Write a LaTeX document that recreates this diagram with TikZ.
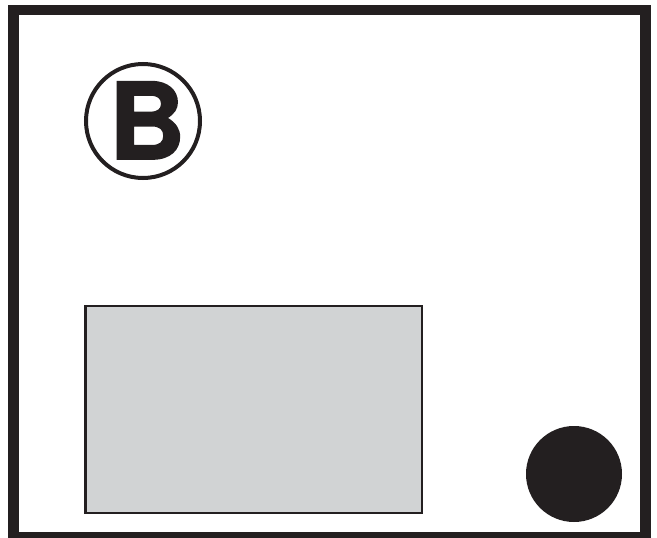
\documentclass[tikz,border=0pt]{standalone}
\usepackage{fontspec}
\setmainfont{TeX Gyre Heros}
\newfontfamily\heavyfont[FakeBold=1.6]{TeX Gyre Heros Bold}
\usepackage{xcolor}
\usepackage{tikz}
\usetikzlibrary{positioning}

\definecolor{inkblack}{HTML}{231F20}
\definecolor{panelgrey}{HTML}{D1D3D4}

\begin{document}
\begin{tikzpicture}[
      x=1pt, y=-1pt,
      frame/.style={draw=inkblack, line width=10.5pt},
      badge/.style={circle, draw=inkblack, line width=4pt, minimum size=114pt,
                    inner sep=0pt, text=inkblack},
      panel/.style={draw=inkblack, line width=2.6pt, fill=panelgrey},
      knob/.style={circle, fill=inkblack, minimum size=96pt, inner sep=0pt}
    ]
    \useasboundingbox (0,0) rectangle (657,538);
    % outer frame
    \draw[frame] (13.5,10) rectangle (645.5,537);
    % label badge
    \node[badge] (badge) at (143,121) {};
    \node[text=inkblack, inner sep=0pt, anchor=base]
      (letter) at (147,159) {\fontsize{106}{106}\heavyfont B};
    % grey panel and round knob
    \draw[panel] (85.5,306) rectangle (422,513);
    \node[knob] (knob) at (574,474) {};
  \end{tikzpicture}
\end{document}
